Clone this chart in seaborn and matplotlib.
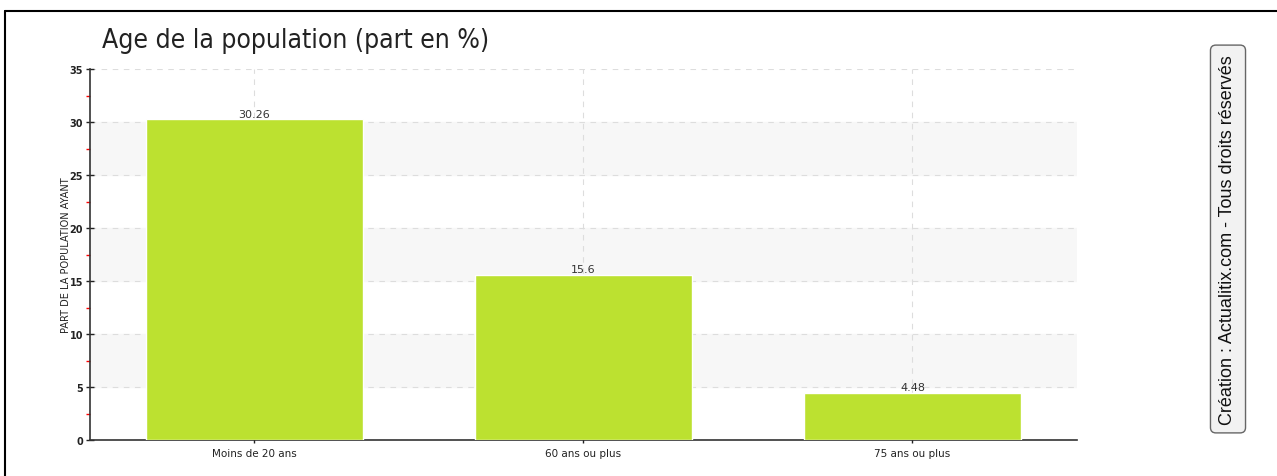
import pandas as pd
import numpy as np
import matplotlib as mpl
import matplotlib.pyplot as plt
import seaborn as sns

categories = ['Moins de 20 ans', '60 ans ou plus', '75 ans ou plus']
values = [30.26, 15.6, 4.48]
value_labels = ['30.26', '15.6', '4.48']

df = pd.DataFrame({'age': categories, 'part': values})

sns.set_style('white')
plt.rcParams['font.family'] = ['DejaVu Sans']

fig = plt.figure(figsize=(12.77, 4.77), dpi=100)
ax = fig.add_axes([90 / 1277, 1 - 441 / 477, (1077 - 90) / 1277, (441 - 70) / 477])

# bandes grises alternees
for lo in [5, 15, 25]:
    ax.axhspan(lo, lo + 5, color='#f7f7f7', zorder=0)

sns.barplot(data=df, x='age', y='part', color='#bce130', width=0.66,
            saturation=1, ax=ax, zorder=3)

for i, v in enumerate(values):
    ax.text(i, v + 0.05, value_labels[i], ha='center', va='bottom',
            fontsize=8, color='#333333', zorder=4)

ax.set_xlim(-0.5, 2.5)
ax.set_ylim(0, 35)
ax.set_yticks(np.arange(0, 36, 5))
ax.set_yticks(np.arange(2.5, 35, 5), minor=True)
ax.grid(True, axis='both', which='major', linestyle=(0, (5, 5)), color='#dddddd',
        linewidth=0.8, zorder=1)
ax.set_axisbelow(True)

ax.tick_params(axis='y', which='major', direction='inout', length=6, width=1,
               labelsize=7, colors='#222222', left=True, pad=2)
ax.tick_params(axis='y', which='minor', direction='out', length=3, width=1,
               color='red', left=True)
ax.tick_params(axis='x', which='major', direction='inout', length=5, width=1,
               labelsize=7.5, colors='#222222', bottom=True)
for lab in ax.get_yticklabels():
    lab.set_fontweight('bold')

ax.set_xlabel('')
ax.set_ylabel('PART DE LA POPULATION AYANT', fontsize=7, color='#222222')
ax.yaxis.set_label_coords(-(90 - 71) / 987, 0.5)

for side in ['top', 'right']:
    ax.spines[side].set_visible(False)
for side in ['left', 'bottom']:
    ax.spines[side].set_color('#333333')
    ax.spines[side].set_linewidth(1.2)

fig.text(102 / 1277, 1 - 41 / 477, 'Age de la population (part en %)',
         fontsize=19, color='#222222', va='center', ha='left',
         fontstretch='condensed', family=['DejaVu Sans'])

fig.text(1228 / 1277, 1 - 240 / 477,
         'Création : Actualitix.com - Tous droits réservés',
         rotation=90, fontsize=13, ha='center', va='center', color='#111111',
         family=['Liberation Sans', 'DejaVu Sans'],
         bbox=dict(boxstyle='round,pad=0.5,rounding_size=0.3', fc='#f2f2f2',
                   ec='#666666', lw=1))

# cadre exterieur
fig.add_artist(mpl.lines.Line2D([5 / 1277, 1], [1 - 12 / 477, 1 - 12 / 477],
                                color='black', lw=1.5))
fig.add_artist(mpl.lines.Line2D([5 / 1277, 5 / 1277], [0, 1 - 12 / 477],
                                color='black', lw=1.5))

fig.savefig('out.png', dpi=100)
